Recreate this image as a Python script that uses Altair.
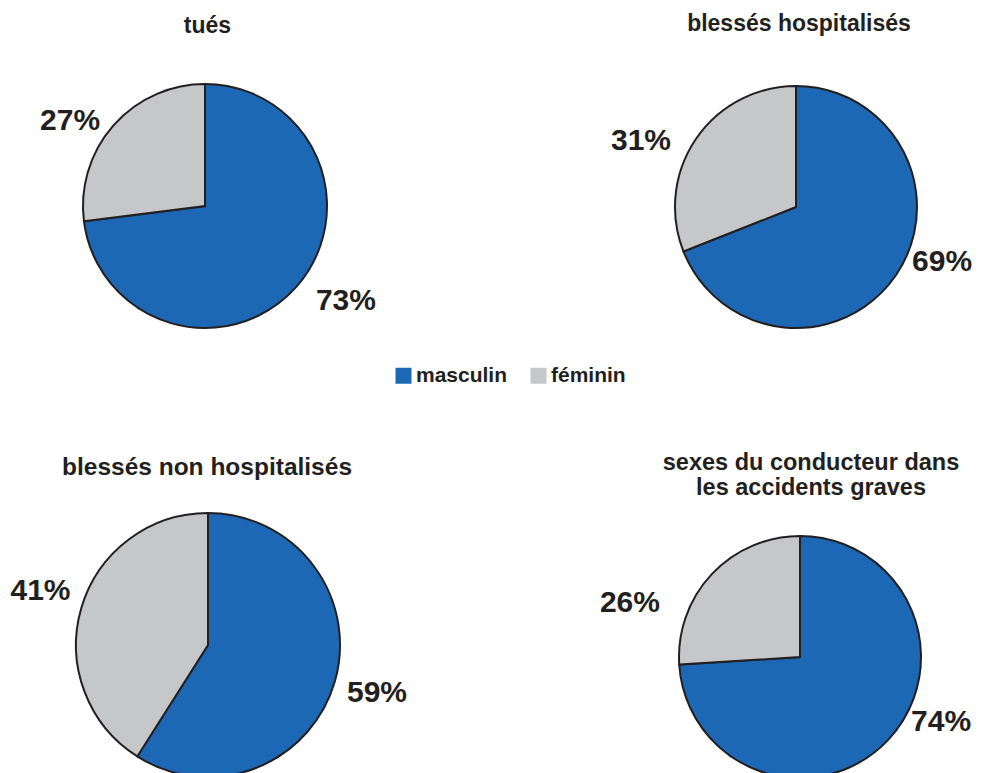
import math
import altair as alt
import pandas as pd

# ---- data ----
TITRES = ["tués", "blessés hospitalisés", "blessés non hospitalisés",
          "sexes du conducteur dans\nles accidents graves"]
SEXES = ["masculin", "féminin"]
MASCULIN = [73, 69, 59, 74]
FEMININ = [27, 31, 41, 26]
COULEURS = ["#1c68b4", "#c6c7c9"]

rows = []
for i, titre in enumerate(TITRES):
    for j, (sexe, val) in enumerate(zip(SEXES, [MASCULIN[i], FEMININ[i]])):
        rows.append({"panel": i, "titre": titre, "sexe": sexe, "ordre": j,
                     "valeur": val, "label": f"{val}%"})
df = pd.DataFrame(rows)

# ---- layout (pixels in the view) ----
LAYOUT = [
    dict(cx=197, cy=198, r=122, tx=199.5, ty=25, tfs=23,
         lab=[(124.0, 170.0), (302.2, 159.5)]),
    dict(cx=788, cy=199, r=121, tx=791, ty=23, tfs=23,
         lab=[(110.6, 156.0), (293.1, 168.5)]),
    dict(cx=200, cy=637, r=132, tx=199, ty=467, tfs=24.5,
         lab=[(105.9, 175.7), (287.9, 176.0)]),
    dict(cx=792, cy=649, r=121, tx=803, ty=462, tfs=23.5,
         lab=[(114.75, 155.3), (287.6, 178.4)]),
]

FONT = "Liberation Sans"
INK = "#231f20"

color = alt.Color(
    "sexe:N",
    scale=alt.Scale(domain=SEXES, range=COULEURS),
    legend=alt.Legend(
        title=None, orient="none", legendX=385, legendY=357,
        direction="horizontal", symbolType="square", symbolSize=256,
        symbolStrokeWidth=0, symbolOpacity=1,
        labelFont=FONT, labelFontSize=21, labelFontWeight="bold",
        labelColor=INK, labelOffset=2, columnPadding=20, padding=0,
    ),
)

layers = []
for i, L in enumerate(LAYOUT):
    base = alt.Chart(df).transform_filter(alt.datum.panel == i)
    arc = base.mark_arc(
        x=L["cx"], y=L["cy"], radius=L["r"], stroke=INK, strokeWidth=2
    ).encode(
        theta=alt.Theta("valeur:Q", stack=True),
        color=color,
        order=alt.Order("ordre:Q"),
    )
    layers.append(arc)
    for j, sexe in enumerate(SEXES):
        ang, rad = L["lab"][j]
        txt = alt.Chart(df).transform_filter(
            (alt.datum.panel == i) & (alt.datum.sexe == sexe)
        ).mark_text(
            x=L["cx"], y=L["cy"], theta=math.radians(ang), radius=rad,
            font=FONT, fontSize=30, fontWeight="bold", color=INK,
            align="center", baseline="middle",
        ).encode(text=alt.Text("label:N"))
        layers.append(txt)
    title = alt.Chart(df).transform_filter(
        (alt.datum.panel == i) & (alt.datum.ordre == 0)
    ).mark_text(
        x=L["tx"], y=L["ty"], font=FONT, fontSize=L["tfs"], fontWeight="bold",
        color=INK, align="center", baseline="alphabetic", lineBreak="\n",
        lineHeight=25,
    ).encode(text=alt.Text("titre:N"))
    layers.append(title)

chart = alt.layer(*layers).properties(
    width=965, height=765,
    autosize=alt.AutoSizeParams(type="none"),
    padding=0,
).configure_view(stroke=None)

chart.save("out.html", embed_options={"renderer": "svg", "actions": False})
